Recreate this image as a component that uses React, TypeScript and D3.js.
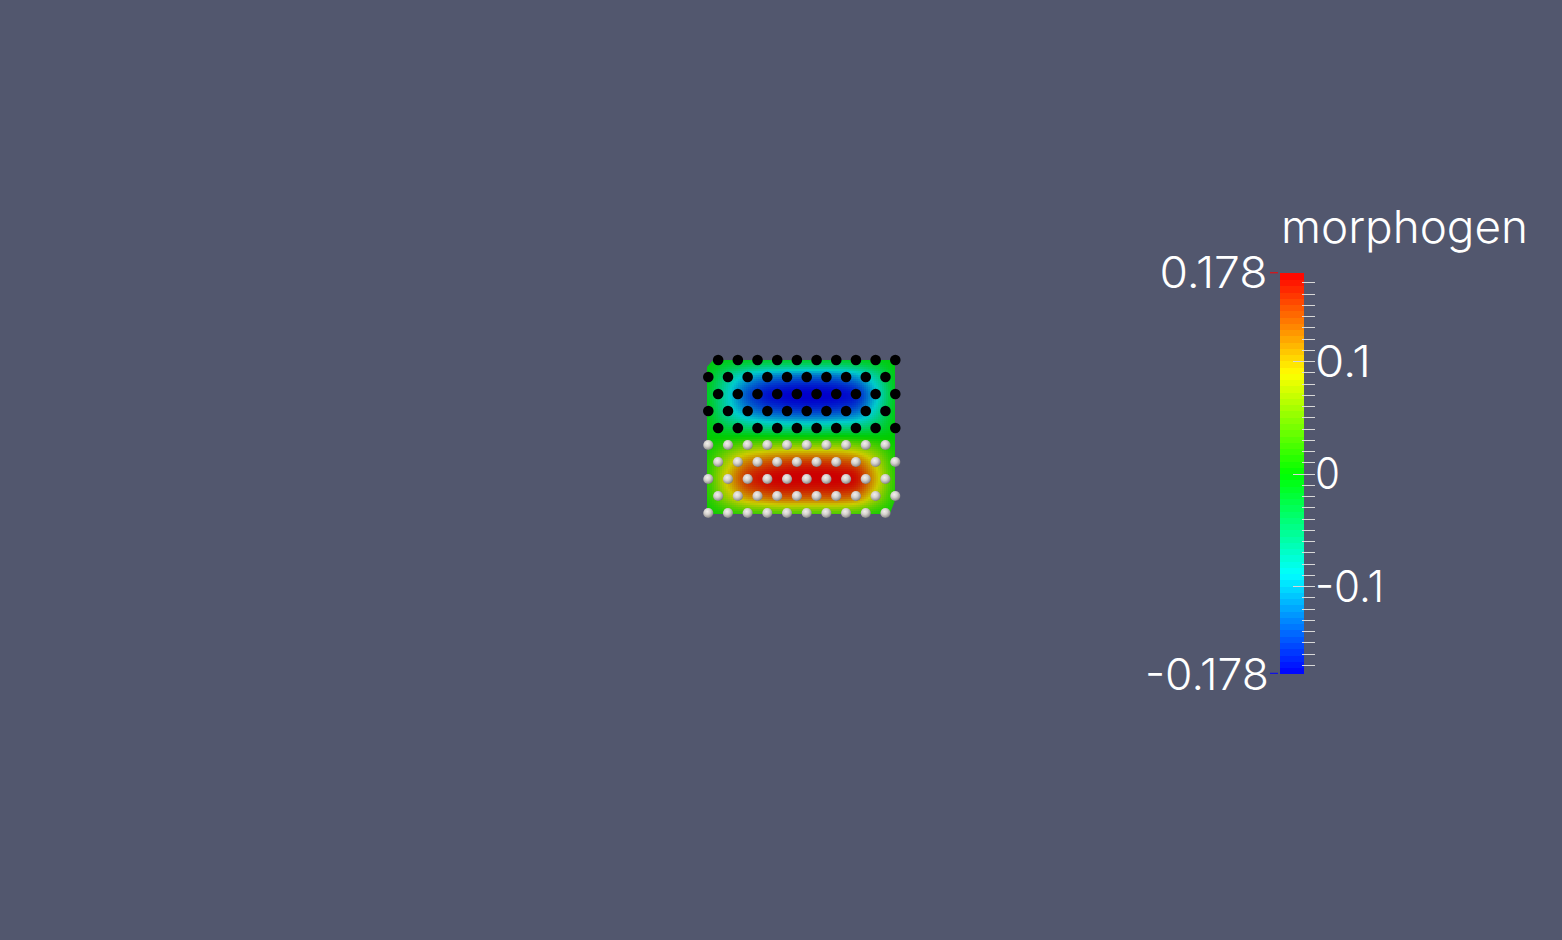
import React from 'react';
import * as d3 from 'd3';

const W = 1562;
const H = 940;
const BG = '#52576e';

// colour legend
const scalarName = 'morphogen';
const rangeMin = -0.178;
const rangeMax = 0.178;
const rangeMinLabel = '-0.178';
const rangeMaxLabel = '0.178';
const majorTicks = [0.1, 0, -0.1];
const majorTickLabels = ['0.1', '0', '-0.1'];
const minorTickStep = 0.01;
const colorBands = 64;

// cells (dots) on a hexagonal lattice: 10 rows x 10 cells
const cellRowTypes = ['black', 'black', 'black', 'black', 'black', 'white', 'white', 'white', 'white', 'white'];
const cellRowOffsets = [0.5, 0, 0.5, 0, 0.5, 0, 0.5, 0, 0.5, 0];
const cellsPerRow = 10;

// morphogen field sampled on an 11 x 10 grid (rows top -> bottom)
const fieldRow0 = [-0.005, -0.01, -0.015, -0.02, -0.02, -0.02, -0.02, -0.02, -0.015, -0.01, -0.005];
const fieldRow1 = [-0.01, -0.055, -0.095, -0.12, -0.13, -0.135, -0.135, -0.13, -0.11, -0.065, -0.01];
const fieldRow2 = [-0.015, -0.075, -0.135, -0.165, -0.175, -0.178, -0.178, -0.175, -0.16, -0.095, -0.015];
const fieldRow3 = [-0.01, -0.065, -0.11, -0.135, -0.145, -0.15, -0.15, -0.145, -0.13, -0.075, -0.01];
const fieldRow4 = [-0.005, -0.025, -0.04, -0.05, -0.055, -0.055, -0.055, -0.05, -0.045, -0.03, -0.005];
const fieldRow5 = [0.005, 0.025, 0.045, 0.055, 0.06, 0.06, 0.06, 0.06, 0.05, 0.03, 0.005];
const fieldRow6 = [0.015, 0.07, 0.12, 0.14, 0.15, 0.155, 0.155, 0.15, 0.135, 0.08, 0.015];
const fieldRow7 = [0.02, 0.09, 0.15, 0.172, 0.178, 0.178, 0.178, 0.178, 0.168, 0.1, 0.02];
const fieldRow8 = [0.015, 0.065, 0.11, 0.13, 0.14, 0.14, 0.14, 0.14, 0.125, 0.07, 0.015];
const fieldRow9 = [0.005, 0.015, 0.025, 0.03, 0.035, 0.035, 0.035, 0.035, 0.03, 0.015, 0.005];
const fieldRows = [fieldRow0, fieldRow1, fieldRow2, fieldRow3, fieldRow4, fieldRow5, fieldRow6, fieldRow7, fieldRow8, fieldRow9];
// tissue outline in grid units
const outline: [number, number][] = [[0.33, 0], [10, 0], [10, 8.2], [9.72, 9], [0, 9], [0, 0.4]];

const FONT = 'Inter, Lato, sans-serif';
const shade = 0.8;

function colorFor(v: number, lit: number) {
  const t = Math.max(0, Math.min(1, (v - rangeMin) / (rangeMax - rangeMin)));
  const c = d3.rgb(d3.hsl(240 * (1 - t), 1, 0.5));
  return d3.rgb(c.r * lit, c.g * lit, c.b * lit).formatHex();
}

function cr(p0: number, p1: number, p2: number, p3: number, t: number) {
  return 0.5 * (2 * p1 + (-p0 + p2) * t + (2 * p0 - 5 * p1 + 4 * p2 - p3) * t * t + (-p0 + 3 * p1 - 3 * p2 + p3) * t * t * t);
}

function sampleField(u: number, v: number) {
  const nr = fieldRows.length;
  const nc = fieldRows[0].length;
  const g = (r: number, c: number) => fieldRows[Math.max(0, Math.min(nr - 1, r))][Math.max(0, Math.min(nc - 1, c))];
  const uc = Math.max(0, Math.min(nc - 1, u));
  const vc = Math.max(0, Math.min(nr - 1, v));
  const i = Math.min(nc - 2, Math.floor(uc));
  const j = Math.min(nr - 2, Math.floor(vc));
  const tx = uc - i;
  const ty = vc - j;
  const rowsV = [-1, 0, 1, 2].map((dj) => cr(g(j + dj, i - 1), g(j + dj, i), g(j + dj, i + 1), g(j + dj, i + 2), tx));
  return cr(rowsV[0], rowsV[1], rowsV[2], rowsV[3], ty);
}

export default function App() {
  // field scales
  const fx = d3.scaleLinear().domain([0, 10]).range([707, 895]);
  const fy = d3.scaleLinear().domain([0, 9]).range([360, 514]);
  // lattice scales
  const lx = d3.scaleLinear().domain([0, 9.5]).range([708.3, 895.3]);
  const ly = d3.scaleLinear().domain([0, 9]).range([360, 513]);
  // colour bar scale
  const cb = d3.scaleLinear().domain([rangeMin, rangeMax]).range([673.8, 273.3]);
  const barX = 1280;
  const barW = 24;

  const step = 2;
  const pixels: { x: number; y: number; c: string }[] = [];
  const [x0, x1] = fx.range();
  const [y0, y1] = fy.range();
  for (let py = y0 - 1; py < y1 + 1; py += step) {
    for (let px = x0 - 1; px < x1 + 1; px += step) {
      const val = sampleField(fx.invert(px + step / 2), fy.invert(py + step / 2));
      pixels.push({ x: px, y: py, c: colorFor(val, shade) });
    }
  }

  const clipPts = outline.map(([u, v]) => `${fx(u)},${fy(v)}`).join(' ');

  const cells: { x: number; y: number; type: string }[] = [];
  cellRowTypes.forEach((type, r) => {
    d3.range(cellsPerRow).forEach((k) => {
      cells.push({ x: lx(k + cellRowOffsets[r]), y: ly(r), type });
    });
  });

  const bandEdges = d3.range(colorBands + 1).map((k) => rangeMin + ((rangeMax - rangeMin) * k) / colorBands);
  const minorTicks = d3.range(Math.ceil(rangeMin / minorTickStep + 1e-9), Math.floor(rangeMax / minorTickStep - 1e-9) + 1).map((k) => k * minorTickStep);

  return (
    <svg width={W} height={H} style={{ position: 'fixed', left: 0, top: 0, display: 'block' }}>
      <defs>
        <clipPath id="tissue">
          <polygon points={clipPts} />
        </clipPath>
        <radialGradient id="sphere" cx="0.4" cy="0.35" r="0.65">
          <stop offset="0" stopColor="#f2f0ec" />
          <stop offset="0.45" stopColor="#d6d3cf" />
          <stop offset="0.85" stopColor="#9e9c9a" />
          <stop offset="1" stopColor="#7d7c7d" />
        </radialGradient>
      </defs>
      <rect x={0} y={0} width={W} height={H} fill={BG} />
      <g clipPath="url(#tissue)" shapeRendering="crispEdges">
        {pixels.map((p, i) => (
          <rect key={i} x={p.x} y={p.y} width={step + 0.2} height={step + 0.2} fill={p.c} />
        ))}
      </g>
      <g>
        {cells.map((c, i) =>
          c.type === 'black' ? (
            <circle key={i} cx={c.x} cy={c.y} r={5.3} fill="#000" />
          ) : (
            <circle key={i} cx={c.x} cy={c.y} r={5.1} fill="url(#sphere)" />
          )
        )}
      </g>

      {/* colour bar */}
      <g shapeRendering="crispEdges">
        {bandEdges.slice(0, -1).map((lo, k) => {
          const hi = bandEdges[k + 1];
          return (
            <rect key={k} x={barX} y={cb(hi)} width={barW} height={cb(lo) - cb(hi) + 0.5} fill={colorFor((lo + hi) / 2, 1)} />
          );
        })}
      </g>
      <g stroke="#d8d8d8" strokeWidth={1}>
        {minorTicks.map((t, i) => (
          <line key={i} x1={barX + barW - 2} x2={barX + barW + 11} y1={Math.round(cb(t)) + 0.5} y2={Math.round(cb(t)) + 0.5} />
        ))}
        {majorTicks.map((t, i) => (
          <line key={'M' + i} x1={barX + 13} x2={barX + barW + 11} y1={Math.round(cb(t)) + 0.5} y2={Math.round(cb(t)) + 0.5} />
        ))}
      </g>
      <line x1={barX - 10} x2={barX - 2} y1={cb(rangeMax) - 0.5} y2={cb(rangeMax) - 0.5} stroke="#ff0000" strokeWidth={1} />
      <line x1={barX - 10} x2={barX - 2} y1={cb(rangeMin) - 0.5} y2={cb(rangeMin) - 0.5} stroke="#0000ff" strokeWidth={1} />

      <g fill="#ffffff" fontFamily={FONT} fontWeight={300}>
        <text x={1281} y={242.7} fontSize={45} textLength={247} lengthAdjust="spacingAndGlyphs">{scalarName}</text>
        <text x={1159.5} y={cb(rangeMax) + 15} fontSize={43} textLength={108} lengthAdjust="spacingAndGlyphs">{rangeMaxLabel}</text>
        <text x={1145} y={cb(rangeMin) + 16.5} fontSize={43} textLength={124} lengthAdjust="spacingAndGlyphs">{rangeMinLabel}</text>
        {majorTicks.map((t, i) => (
          <text key={i} x={1315} y={cb(t) + 15.5} fontSize={43}
            textLength={majorTickLabels[i] === '0' ? 25 : majorTickLabels[i] === '0.1' ? 56 : 69}
            lengthAdjust="spacingAndGlyphs">{majorTickLabels[i]}</text>
        ))}
      </g>
    </svg>
  );
}
